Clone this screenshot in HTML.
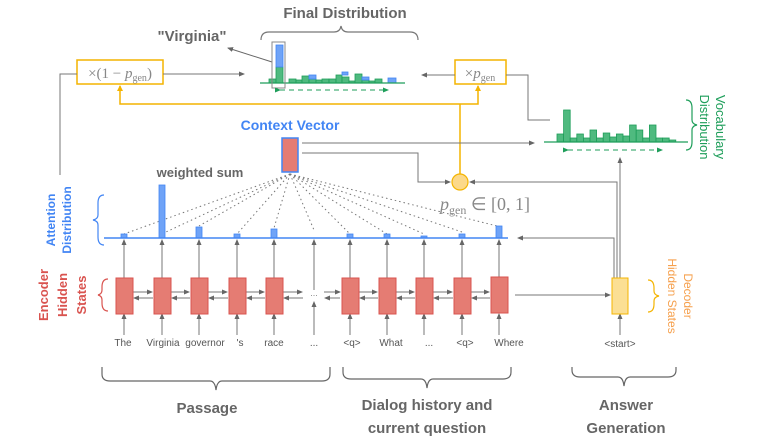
<!DOCTYPE html>
<html><head><meta charset="utf-8"><style>
html,body{margin:0;padding:0;background:#fff;}
svg{display:block;font-family:"Liberation Sans",sans-serif;}
</style></head><body>
<svg width="767" height="446" viewBox="0 0 767 446" xmlns="http://www.w3.org/2000/svg">
<defs>
<marker id="a" markerWidth="6" markerHeight="6" refX="5" refY="3" orient="auto"><path d="M0,0.5 L6,3 L0,5.5z" fill="#666"/></marker>
<marker id="ag" markerWidth="6" markerHeight="6" refX="5" refY="3" orient="auto"><path d="M0,0.5 L6,3 L0,5.5z" fill="#1e9e5a"/></marker>
</defs>
<text x="345" y="18" text-anchor="middle" font-size="15" font-weight="bold" fill="#666">Final Distribution</text>
<path d="M261,40 q0,-8 8,-8 h65 q6,0 7,-6 q1,6 7,6 h62 q8,0 8,8" fill="none" stroke="#777" stroke-width="1.2"/>
<text x="192" y="41" text-anchor="middle" font-size="15" font-weight="bold" fill="#666">"Virginia"</text>
<line x1="272" y1="62" x2="228" y2="48" stroke="#666" marker-end="url(#a)"/>
<g fill="#3cb371" stroke="#1e9e5a" stroke-width="0.8" fill-opacity="0.9">
<rect x="269" y="79" width="7" height="4"/>
<rect x="276" y="67" width="7" height="16"/>
<rect x="289" y="79" width="7" height="4"/><rect x="296" y="80" width="6" height="3"/>
<rect x="302" y="76" width="7" height="7"/><rect x="309" y="79" width="7" height="4"/>
<rect x="316" y="80" width="6" height="3"/><rect x="322" y="79" width="7" height="4"/>
<rect x="329" y="79" width="7" height="4"/><rect x="336" y="75" width="6" height="8"/>
<rect x="342" y="77" width="7" height="6"/><rect x="349" y="81" width="6" height="2"/>
<rect x="355" y="74" width="7" height="9"/><rect x="362" y="80" width="7" height="3"/>
<rect x="369" y="81" width="6" height="2"/><rect x="375" y="79" width="7" height="4"/>
</g>
<g fill="#6fa3f7" stroke="#4285f4" stroke-width="0.8">
<rect x="276" y="45" width="7" height="22"/>
<rect x="309" y="75" width="7" height="4"/>
<rect x="342" y="72" width="6" height="3"/>
<rect x="362" y="77" width="7" height="3"/>
<rect x="388" y="78" width="8" height="5"/>
</g>
<line x1="260" y1="83" x2="405" y2="83" stroke="#1e9e5a" stroke-width="1.2"/>
<rect x="272" y="42" width="13" height="46" fill="none" stroke="#888" stroke-width="1"/>
<line x1="280" y1="90" x2="388" y2="90" stroke="#1e9e5a" stroke-dasharray="5,4" marker-start="url(#ag)" marker-end="url(#ag)"/>
<rect x="77" y="60" width="86" height="24" fill="#fff" stroke="#f4b400" stroke-width="1.5"/>
<text x="120" y="78" text-anchor="middle" font-family="Liberation Serif,serif" font-size="15" fill="#888">×(1 − <tspan font-style="italic">p</tspan><tspan font-size="10" dy="3">gen</tspan><tspan dy="-3">)</tspan></text>
<rect x="455" y="60" width="51" height="24" fill="#fff" stroke="#f4b400" stroke-width="1.5"/>
<text x="480" y="78" text-anchor="middle" font-family="Liberation Serif,serif" font-size="15" fill="#888">×<tspan font-style="italic">p</tspan><tspan font-size="10" dy="3">gen</tspan></text>
<line x1="163" y1="74" x2="244" y2="74" stroke="#777" marker-end="url(#a)"/>
<line x1="455" y1="75" x2="422" y2="75" stroke="#777" marker-end="url(#a)"/>
<polyline points="506,75 528,75 528,120 550,120" fill="none" stroke="#777"/>
<polyline points="60,175 60,74 77,74" fill="none" stroke="#777"/>
<polyline points="120,86 120,104 478,104 478,86" fill="none" stroke="#f4b400" stroke-width="1.5"/>
<path d="M117,91 L120,85 L123,91z M475,91 L478,85 L481,91z" fill="#f4b400"/>
<line x1="460" y1="104" x2="460" y2="174" stroke="#f4b400" stroke-width="1.5"/>
<circle cx="460" cy="182" r="8" fill="#fcd98a" stroke="#f4b400" stroke-width="1.2"/>
<text x="440" y="210" font-family="Liberation Serif,serif" font-size="18" fill="#888"><tspan font-style="italic">p</tspan><tspan font-size="12" dy="4">gen</tspan><tspan dy="-4"> ∈ [0, 1]</tspan></text>
<g fill="#3cb371" stroke="#1e9e5a" stroke-width="0.8" fill-opacity="0.9">
<rect x="557" y="134" width="6.6" height="8"/><rect x="563.6" y="110" width="6.6" height="32"/>
<rect x="570.2" y="138" width="6.6" height="4"/><rect x="576.8" y="134" width="6.6" height="8"/>
<rect x="583.4" y="138" width="6.6" height="4"/><rect x="590" y="130" width="6.6" height="12"/>
<rect x="596.6" y="138" width="6.6" height="4"/><rect x="603.2" y="133" width="6.6" height="9"/>
<rect x="609.8" y="137" width="6.6" height="5"/><rect x="616.4" y="134" width="6.6" height="8"/>
<rect x="623" y="136" width="6.6" height="6"/><rect x="629.6" y="125" width="6.6" height="17"/>
<rect x="636.2" y="130" width="6.6" height="12"/><rect x="642.8" y="138" width="6.6" height="4"/>
<rect x="649.4" y="125" width="6.6" height="17"/><rect x="656" y="138" width="6.6" height="4"/>
<rect x="662.6" y="138" width="6.6" height="4"/><rect x="669.2" y="140" width="6.6" height="2"/>
</g>
<line x1="544" y1="142" x2="688" y2="142" stroke="#1e9e5a" stroke-width="1.2"/>
<line x1="568" y1="150" x2="662" y2="150" stroke="#1e9e5a" stroke-dasharray="5,4" marker-start="url(#ag)" marker-end="url(#ag)"/>
<path d="M686,100 q6,0 6,8 v12 q0,4 5,5 q-5,1 -5,5 v12 q0,8 -6,8" fill="none" stroke="#1e9e5a" stroke-width="1.2"/>
<text transform="translate(716,127) rotate(90)" text-anchor="middle" font-size="13" fill="#1e9e5a">Vocabulary</text>
<text transform="translate(700,127) rotate(90)" text-anchor="middle" font-size="13" fill="#1e9e5a">Distribution</text>
<text x="290" y="130" text-anchor="middle" font-size="14" font-weight="bold" fill="#4285f4">Context Vector</text>
<rect x="282" y="138" width="16" height="34" fill="#e57c73" stroke="#4285f4" stroke-width="1.5"/>
<line x1="302" y1="143" x2="534" y2="143" stroke="#777" marker-end="url(#a)"/>
<polyline points="302,153 418,153 418,182 450,182" fill="none" stroke="#777" marker-end="url(#a)"/>
<polyline points="617,278 617,182 470,182" fill="none" stroke="#777" marker-end="url(#a)"/>
<polyline points="620,278 620,158" fill="none" stroke="#777" marker-end="url(#a)"/>
<polyline points="614,278 614,238 518,238" fill="none" stroke="#777" marker-end="url(#a)"/>
<text x="200" y="177" text-anchor="middle" font-size="13" font-weight="bold" fill="#666">weighted sum</text>
<g stroke="#777" stroke-dasharray="1.5,3" stroke-width="1">
<line x1="290" y1="174" x2="124" y2="234"/><line x1="290" y1="174" x2="166" y2="232"/>
<line x1="290" y1="174" x2="199" y2="226"/><line x1="290" y1="174" x2="237" y2="234"/>
<line x1="290" y1="174" x2="274" y2="228"/><line x1="290" y1="174" x2="314" y2="230"/>
<line x1="290" y1="174" x2="350" y2="234"/><line x1="290" y1="174" x2="387" y2="234"/>
<line x1="290" y1="174" x2="424" y2="234"/><line x1="290" y1="174" x2="462" y2="232"/>
<line x1="290" y1="174" x2="497" y2="226"/>
</g>
<g fill="#6fa3f7" stroke="#4285f4" stroke-width="0.8">
<rect x="121" y="234" width="6" height="4"/><rect x="159" y="185" width="6" height="53"/>
<rect x="196" y="227" width="6" height="11"/><rect x="234" y="234" width="6" height="4"/>
<rect x="271" y="229" width="6" height="9"/><rect x="347" y="234" width="6" height="4"/>
<rect x="384" y="234" width="6" height="4"/><rect x="421" y="236" width="6" height="2"/>
<rect x="459" y="234" width="6" height="4"/><rect x="496" y="226" width="6" height="12"/>
</g>
<line x1="104" y1="238" x2="508" y2="238" stroke="#4285f4" stroke-width="1.5"/>
<path d="M104,195 q-6,0 -6,8 v12 q0,4 -5,5 q5,1 5,5 v12 q0,8 6,8" fill="none" stroke="#4285f4" stroke-width="1.2"/>
<text transform="translate(55,220) rotate(-90)" text-anchor="middle" font-size="12" font-weight="bold" fill="#4285f4">Attention</text>
<text transform="translate(71,220) rotate(-90)" text-anchor="middle" font-size="12" font-weight="bold" fill="#4285f4">Distribution</text>
<g stroke="#777" fill="none">
<line x1="124" y1="278" x2="124" y2="240" marker-end="url(#a)"/><line x1="162" y1="278" x2="162" y2="240" marker-end="url(#a)"/>
<line x1="199" y1="278" x2="199" y2="240" marker-end="url(#a)"/><line x1="237" y1="278" x2="237" y2="240" marker-end="url(#a)"/>
<line x1="274" y1="278" x2="274" y2="240" marker-end="url(#a)"/><line x1="314" y1="290" x2="314" y2="240" marker-end="url(#a)"/>
<line x1="350" y1="278" x2="350" y2="240" marker-end="url(#a)"/><line x1="387" y1="278" x2="387" y2="240" marker-end="url(#a)"/>
<line x1="424" y1="278" x2="424" y2="240" marker-end="url(#a)"/><line x1="462" y1="278" x2="462" y2="240" marker-end="url(#a)"/>
<line x1="499" y1="278" x2="499" y2="240" marker-end="url(#a)"/>
<line x1="124" y1="335" x2="124" y2="314" marker-end="url(#a)"/><line x1="162" y1="335" x2="162" y2="314" marker-end="url(#a)"/>
<line x1="199" y1="335" x2="199" y2="314" marker-end="url(#a)"/><line x1="237" y1="335" x2="237" y2="314" marker-end="url(#a)"/>
<line x1="274" y1="335" x2="274" y2="314" marker-end="url(#a)"/><line x1="314" y1="335" x2="314" y2="302" marker-end="url(#a)"/>
<line x1="350" y1="335" x2="350" y2="314" marker-end="url(#a)"/><line x1="387" y1="335" x2="387" y2="314" marker-end="url(#a)"/>
<line x1="424" y1="335" x2="424" y2="314" marker-end="url(#a)"/><line x1="462" y1="335" x2="462" y2="314" marker-end="url(#a)"/>
<line x1="499" y1="335" x2="499" y2="314" marker-end="url(#a)"/><line x1="620" y1="335" x2="620" y2="314" marker-end="url(#a)"/>
</g>
<g stroke="#777" fill="none">
<line x1="133" y1="292" x2="152" y2="292" marker-end="url(#a)"/><line x1="153" y1="298" x2="134" y2="298" marker-end="url(#a)"/>
<line x1="171" y1="292" x2="189" y2="292" marker-end="url(#a)"/><line x1="190" y1="298" x2="172" y2="298" marker-end="url(#a)"/>
<line x1="208" y1="292" x2="227" y2="292" marker-end="url(#a)"/><line x1="228" y1="298" x2="209" y2="298" marker-end="url(#a)"/>
<line x1="246" y1="292" x2="264" y2="292" marker-end="url(#a)"/><line x1="265" y1="298" x2="247" y2="298" marker-end="url(#a)"/>
<line x1="283" y1="292" x2="302" y2="292" marker-end="url(#a)"/><line x1="303" y1="298" x2="284" y2="298" marker-end="url(#a)"/>
<line x1="324" y1="292" x2="340" y2="292" marker-end="url(#a)"/><line x1="340" y1="298" x2="325" y2="298" marker-end="url(#a)"/>
<line x1="359" y1="292" x2="377" y2="292" marker-end="url(#a)"/><line x1="378" y1="298" x2="360" y2="298" marker-end="url(#a)"/>
<line x1="396" y1="292" x2="414" y2="292" marker-end="url(#a)"/><line x1="415" y1="298" x2="397" y2="298" marker-end="url(#a)"/>
<line x1="433" y1="292" x2="452" y2="292" marker-end="url(#a)"/><line x1="453" y1="298" x2="434" y2="298" marker-end="url(#a)"/>
<line x1="471" y1="292" x2="489" y2="292" marker-end="url(#a)"/><line x1="490" y1="298" x2="472" y2="298" marker-end="url(#a)"/>
<line x1="515" y1="295" x2="610" y2="295" marker-end="url(#a)"/>
</g>
<g fill="#e57c73" stroke="#d9534f" stroke-width="1">
<rect x="116" y="278" width="17" height="36"/><rect x="154" y="278" width="17" height="36"/>
<rect x="191" y="278" width="17" height="36"/><rect x="229" y="278" width="17" height="36"/>
<rect x="266" y="278" width="17" height="36"/><rect x="342" y="278" width="17" height="36"/>
<rect x="379" y="278" width="17" height="36"/><rect x="416" y="278" width="17" height="36"/>
<rect x="454" y="278" width="17" height="36"/><rect x="491" y="277" width="17" height="36"/>
</g>
<text x="314" y="296" text-anchor="middle" font-size="9" fill="#888">...</text>
<rect x="612" y="278" width="16" height="36" fill="#fbdf94" stroke="#f4b400" stroke-width="1"/>
<path d="M108,279 q-6,0 -6,8 v3 q0,4 -4,5 q4,1 4,5 v3 q0,8 6,8" fill="none" stroke="#d9534f" stroke-width="1.2"/>
<text transform="translate(48,295) rotate(-90)" text-anchor="middle" font-size="13" font-weight="bold" fill="#d9534f">Encoder</text>
<text transform="translate(67,295) rotate(-90)" text-anchor="middle" font-size="13" font-weight="bold" fill="#d9534f">Hidden</text>
<text transform="translate(86,295) rotate(-90)" text-anchor="middle" font-size="13" font-weight="bold" fill="#d9534f">States</text>
<path d="M648,280 q6,0 6,8 v3 q0,4 5,5 q-5,1 -5,5 v3 q0,8 -6,8" fill="none" stroke="#f4b400" stroke-width="1.2"/>
<text transform="translate(684,296) rotate(90)" text-anchor="middle" font-size="12" fill="#f6a04d">Decoder</text>
<text transform="translate(668,296) rotate(90)" text-anchor="middle" font-size="12" fill="#f6a04d">Hidden States</text>
<g font-size="10" fill="#555" text-anchor="middle">
<text x="123" y="346">The</text><text x="163" y="346">Virginia</text><text x="205" y="346">governor</text>
<text x="240" y="346">'s</text><text x="274" y="346">race</text><text x="314" y="346">...</text>
<text x="352" y="346">&lt;q&gt;</text><text x="391" y="346">What</text><text x="429" y="346">...</text>
<text x="465" y="346">&lt;q&gt;</text><text x="509" y="346">Where</text><text x="620" y="347">&lt;start&gt;</text>
</g>
<g fill="none" stroke="#666" stroke-width="1.2">
<path d="M102,367 v7 q0,7 8,7 h100 q5,0 6,9 q1,-9 6,-9 h100 q8,0 8,-7 v-7"/>
<path d="M343,367 v5 q0,7 8,7 h70 q5,0 6,9 q1,-9 6,-9 h70 q8,0 8,-7 v-5"/>
<path d="M572,367 v3 q0,7 8,7 h38 q5,0 6,9 q1,-9 6,-9 h38 q8,0 8,-7 v-3"/>
</g>
<g font-size="15" font-weight="bold" fill="#666" text-anchor="middle">
<text x="207" y="413">Passage</text>
<text x="427" y="410">Dialog history and</text>
<text x="427" y="433">current question</text>
<text x="626" y="410">Answer</text>
<text x="626" y="433">Generation</text>
</g>
</svg>
</body></html>
